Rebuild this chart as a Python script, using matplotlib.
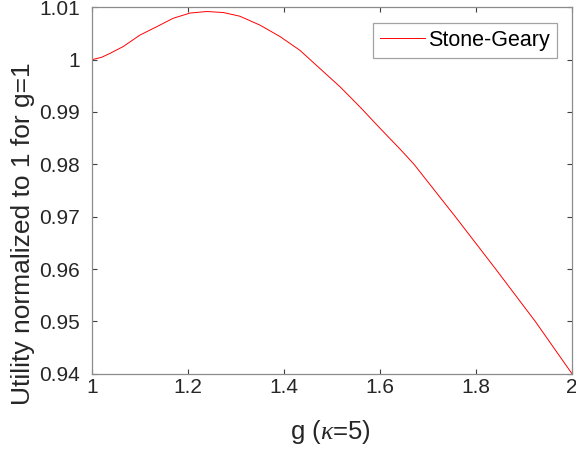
import numpy as np
import matplotlib.pyplot as plt

plt.rcParams['font.family'] = ['Liberation Sans', 'DejaVu Sans']
plt.rcParams['mathtext.fontset'] = 'custom'
plt.rcParams['mathtext.it'] = 'Liberation Serif:italic'

# values
g = [1.0, 1.02, 1.0375, 1.065, 1.1, 1.135, 1.169, 1.204, 1.239, 1.274,
     1.308, 1.35, 1.392, 1.433, 1.475, 1.517, 1.558, 1.6, 1.642, 1.671,
     1.757, 1.841, 1.9235, 2.0]
utility = [1.0, 1.00045, 1.0012, 1.0025, 1.0047, 1.0063, 1.0079, 1.0089, 1.0092, 1.0090,
           1.0083, 1.0066, 1.0044, 1.0018, 0.9983, 0.9948, 0.9910, 0.9869, 0.9829, 0.98,
           0.97, 0.96, 0.95, 0.94]
xticks = [1, 1.2, 1.4, 1.6, 1.8, 2]
xticklabels = ['1', '1.2', '1.4', '1.6', '1.8', '2']
yticks = [0.94, 0.95, 0.96, 0.97, 0.98, 0.99, 1, 1.01]
yticklabels = ['0.94', '0.95', '0.96', '0.97', '0.98', '0.99', '1', '1.01']

fig = plt.figure(figsize=(5.76, 4.49), dpi=100)
ax = fig.add_axes([0.1597, 0.1677, 0.8333, 0.816])

ax.plot(g, utility, color='#ff0000', linewidth=0.7, label='Stone-Geary')

ax.set_xlim(1, 2)
ax.set_ylim(0.94, 1.01)
ax.set_xticks(xticks)
ax.set_xticklabels(xticklabels)
ax.set_yticks(yticks)
ax.set_yticklabels(yticklabels)

for s in ax.spines.values():
    s.set_color('#8c8c8c')
    s.set_linewidth(0.9)
ax.tick_params(direction='in', length=3.4, width=0.8, color='#404040',
               labelsize=15, labelcolor='#262626', top=True, right=True)
ax.tick_params(axis='y', pad=8.5)
ax.tick_params(axis='x', pad=3)

ax.set_xlabel(r'g ($\kappa$=5)', fontsize=18.5, color='#262626', va='center')
ax.set_ylabel('Utility normalized to 1 for g=1', fontsize=19, color='#262626',
              va='center')
ax.xaxis.set_label_coords(0.496, -0.159)
ax.yaxis.set_label_coords(-0.144, 0.382)

leg = ax.legend(loc='upper right', bbox_to_anchor=(0.969, 0.958), fontsize=15.5,
                frameon=True, fancybox=False, handlelength=2.1, handletextpad=0.15,
                borderpad=0.33, borderaxespad=0)
leg.get_frame().set_edgecolor('#8c8c8c')
leg.get_frame().set_linewidth(0.9)

fig.savefig('out.png', dpi=100)
